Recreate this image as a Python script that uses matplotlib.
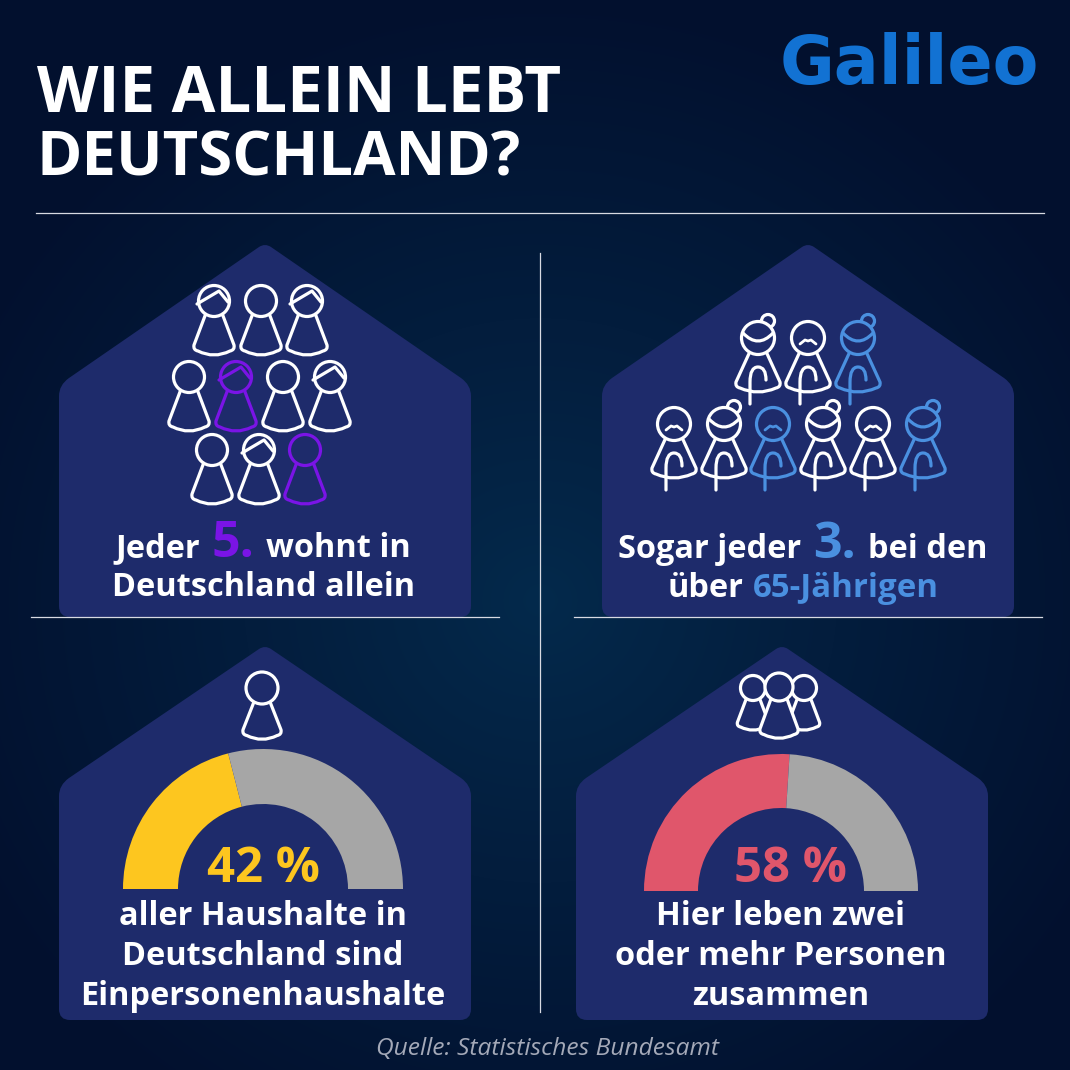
import numpy as np
import matplotlib
matplotlib.use("Agg")
import matplotlib.pyplot as plt
from matplotlib.path import Path
from matplotlib.patches import PathPatch, Circle, Wedge

# values
title_lines = ["WIE ALLEIN LEBT", "DEUTSCHLAND?"]
source = "Quelle: Statistisches Bundesamt"
logo = "Galileo"
gauge_labels = ["42 %", "58 %"]
# share of the half ring that is coloured, as drawn (the red one is drawn near 52)
gauge_shares = [42, 52]
panel3_lines = ["aller Haushalte in", "Deutschland sind", "Einpersonenhaushalte"]
panel4_lines = ["Hier leben zwei", "oder mehr Personen", "zusammen"]
# 1 = highlighted person, hair 1 = with fringe
people_marks = [[0, 0, 0], [0, 1, 0, 0], [0, 0, 1]]
people_hair = [[1, 0, 1], [0, 1, 0, 1], [0, 1, 0]]
senior_marks = [[0, 0, 1], [0, 0, 1, 0, 0, 1]]
senior_women = [[1, 0, 1], [0, 1, 0, 1, 0, 1]]

HOUSE = "#1e2b6b"
WHITE = "#ffffff"
PURPLE = "#7a14e6"
BLUE = "#4a90e0"
YELLOW = "#fdc61f"
RED = "#e0566b"
GREY = "#a6a6a6"
FONT = "Open Sans"
PX = 0.72  # points per pixel

fig = plt.figure(figsize=(10.7, 10.7), dpi=100)
ax = fig.add_axes([0, 0, 1, 1])

# background glow
yy, xx = np.mgrid[0:1070, 0:1070]
dist = np.clip(np.hypot(xx - 540, (yy - 600) * 1.05) / 640, 0, 1)[..., None]
inner = np.array([4, 42, 76]) / 255
outer = np.array([2, 16, 46]) / 255
ax.imshow(inner + (outer - inner) * dist ** 0.9, extent=(0, 1070, 1070, 0), zorder=0)
ax.set_xlim(0, 1070)
ax.set_ylim(1070, 0)
ax.axis("off")


def house(cx, top, eave, bottom, half=206):
    r = 11
    left, right = cx - half, cx + half
    dx, dy = 10, 7
    tx, ty = 6, 4
    verts = [(left, eave + r), (left, eave), (left + dx, eave - dy),
             (cx - tx, top + ty), (cx, top), (cx + tx, top + ty),
             (right - dx, eave - dy), (right, eave), (right, eave + r),
             (right, bottom - r), (right, bottom), (right - r, bottom),
             (left + r, bottom), (left, bottom), (left, bottom - r), (left, eave + r)]
    codes = [Path.MOVETO, Path.CURVE3, Path.CURVE3, Path.LINETO, Path.CURVE3, Path.CURVE3,
             Path.LINETO, Path.CURVE3, Path.CURVE3, Path.LINETO, Path.CURVE3, Path.CURVE3,
             Path.LINETO, Path.CURVE3, Path.CURVE3, Path.CLOSEPOLY]
    ax.add_patch(PathPatch(Path(verts, codes), fc=HOUSE, ec="none", zorder=1))


def stroke(verts, codes, color, lw=2.3, z=3):
    ax.add_patch(PathPatch(Path(verts, codes), fc="none", ec=color, lw=lw, capstyle="round",
                           joinstyle="round", zorder=z))


def pawn(cx, cy, color, r=15.5, s=1.0, wide=1.0, z=3):
    w, h = 20 * s * wide, 49 * s
    t = 8.5 * s
    verts = [(cx - t, cy + r - 2), (cx - w, cy + h - 5 * s), (cx - w - s, cy + h), (cx - w + 4 * s, cy + h + s),
             (cx, cy + h + 9 * s), (cx + w - 4 * s, cy + h + s), (cx + w + s, cy + h),
             (cx + w, cy + h - 5 * s), (cx + t, cy + r - 2)]
    codes = [Path.MOVETO, Path.LINETO, Path.CURVE3, Path.CURVE3, Path.CURVE3, Path.CURVE3,
             Path.CURVE3, Path.CURVE3, Path.LINETO]
    ax.add_patch(PathPatch(Path(verts, codes), fc=HOUSE, ec=color, lw=2.3, joinstyle="round",
                           capstyle="round", zorder=z))
    ax.add_patch(Circle((cx, cy), r, fc=HOUSE, ec=color, lw=2.3, zorder=z))


def fringe(cx, cy, color):
    stroke([(cx - 17, cy + 3), (cx + 5, cy - 10), (cx + 14, cy + 1)],
           [Path.MOVETO, Path.LINETO, Path.LINETO], color)


def senior(cx, cy, color, woman):
    pawn(cx, cy, color, r=16.5, s=1.0, wide=1.1)
    # walking stick
    stroke([(cx - 8, cy + 66), (cx - 8, cy + 44), (cx - 8, cy + 29), (cx, cy + 29), (cx + 8, cy + 29), (cx + 8, cy + 42)],
           [Path.MOVETO, Path.LINETO, Path.CURVE3, Path.CURVE3, Path.CURVE3, Path.CURVE3], color)
    if woman:
        ax.add_patch(Circle((cx + 10, cy - 17), 6.5, fc=HOUSE, ec=color, lw=2.3, zorder=2.5))
        stroke([(cx - 15, cy - 5), (cx, cy + 11), (cx + 15, cy - 5)],
               [Path.MOVETO, Path.CURVE3, Path.CURVE3], color)
    else:
        stroke([(cx - 8, cy + 6), (cx - 3, cy + 2), (cx, cy + 3), (cx + 3, cy + 2), (cx + 8, cy + 6)],
               [Path.MOVETO, Path.LINETO, Path.LINETO, Path.LINETO, Path.LINETO], color, lw=2)


def gauge(cx, cy, r_out, r_in, share, color):
    split = 180 + 180 * share / 100
    ax.add_patch(Wedge((cx, cy), r_out, 180, split, width=r_out - r_in, fc=color, ec="none", zorder=2))
    ax.add_patch(Wedge((cx, cy), r_out, split, 360, width=r_out - r_in, fc=GREY, ec="none", zorder=2))


def label(x, y, s, color=WHITE, size=32.5, ha="center", weight="bold", style="normal"):
    ax.text(x, y, s, color=color, fontsize=size * PX, ha=ha, va="baseline", family=FONT,
            weight=weight, style=style, zorder=5)


# houses
house(265, 243, 385, 617)
house(808, 243, 385, 617)
house(265, 645, 785, 1020)
house(782, 645, 785, 1020)

# divider lines
line = dict(color="#d8dae2", lw=0.9, zorder=4)
ax.plot([36, 1044], [213, 213], **line)
ax.plot([540, 540], [253, 1012], **line)
ax.plot([31, 499], [617, 617], **line)
ax.plot([574, 1042], [617, 617], **line)

# header
label(37, 112, title_lines[0], size=63.5, ha="left")
label(37, 176, title_lines[1], size=61.5, ha="left")
ax.text(909, 84, logo, color="#1272d3", fontsize=48, ha="center", va="baseline",
        family="DejaVu Sans", weight="bold", zorder=5)

# panel 1: people
people_x = [[214, 261, 307], [189, 236, 283, 330], [212, 259, 305]]
people_y = [301, 377, 450]
for xs, y, marks, hair in zip(people_x, people_y, people_marks, people_hair):
    for x, m, h in zip(xs, marks, hair):
        col = PURPLE if m else WHITE
        pawn(x, y, col)
        if h:
            fringe(x, y, col)
label(115, 557, "Jeder", ha="left")
label(212, 557, "5.", color=PURPLE, size=50, ha="left")
label(266, 557, "wohnt in", ha="left")
label(264, 596, "Deutschland allein")

# panel 2: seniors
senior_x = [[758, 808, 858], [674, 724, 773, 823, 873, 923]]
senior_y = [338, 424]
for xs, y, marks, women in zip(senior_x, senior_y, senior_marks, senior_women):
    for x, m, w in zip(xs, marks, women):
        senior(x, y, BLUE if m else WHITE, w)
label(618, 558, "Sogar jeder", ha="left")
label(813, 558, "3.", color=BLUE, size=50, ha="left")
label(868, 558, "bei den", ha="left")
label(668, 597, "über", ha="left")
label(753, 597, "65-Jährigen", color=BLUE, size=33, ha="left")

# panel 3: single household
pawn(262, 688, WHITE, r=16, s=0.95)
gauge(263, 889, 140, 85, gauge_shares[0], YELLOW)
label(263, 882, gauge_labels[0], color=YELLOW, size=49)
for y, s in zip([925, 965, 1005], panel3_lines):
    label(263, y, s)

# panel 4: several people
pawn(753, 688, WHITE, r=12.5, s=0.78)
pawn(804, 688, WHITE, r=12.5, s=0.78)
pawn(779, 687, WHITE, r=14, s=0.95, z=3.5)
gauge(781, 891, 137, 83, gauge_shares[1], RED)
label(790, 882, gauge_labels[1], color=RED, size=49)
for y, s in zip([925, 965, 1005], panel4_lines):
    label(781, y, s)

label(548, 1055, source, color="#a4a9b8", size=24.5, weight="normal", style="italic")

fig.savefig("out.png", dpi=100)
